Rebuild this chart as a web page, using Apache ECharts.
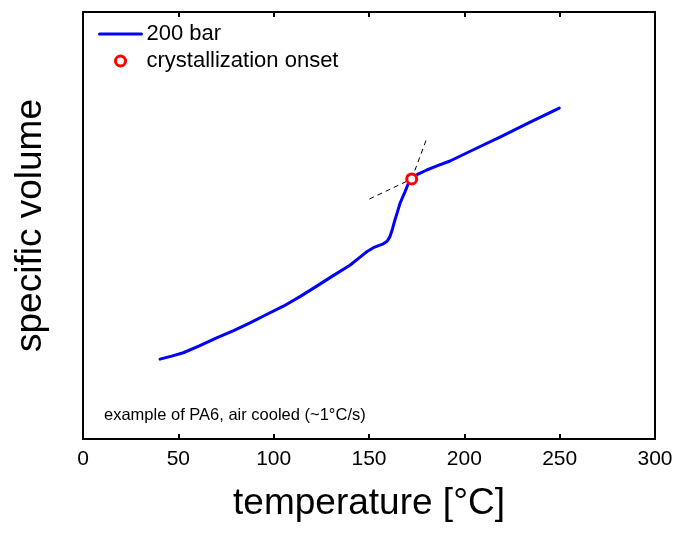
<!DOCTYPE html>
<html>
<head>
<meta charset="utf-8">
<script src="https://cdn.jsdelivr.net/npm/echarts@6/dist/echarts.min.js"></script>
<style>
html,body{margin:0;padding:0;background:#fff;}
#chart{width:686px;height:539px;}
</style>
</head>
<body>
<div id="chart"></div>
<script>
// temperature [°C] of the 200 bar curve
var temperature = [40.4, 46.5, 52.6, 61.0, 70.1, 79.0, 87.6, 96.0, 105.1, 114.0, 122.6, 131.0, 140.0, 145.3, 149.0, 152.3, 155.0, 157.5, 159.5, 161.0, 162.3, 163.6, 165.0, 166.3, 167.7, 168.9, 170.3, 171.6, 173.5, 176.0, 180.3, 186.0, 192.5, 205.0, 218.7, 234.0, 249.8];
// specific volume (arbitrary units, axis unlabelled)
var specificVolume = [18.7, 19.4, 20.2, 21.8, 23.7, 25.4, 27.2, 29.1, 31.1, 33.4, 35.8, 38.2, 40.7, 42.6, 43.9, 44.8, 45.3, 45.7, 46.3, 47.4, 49.2, 51.3, 53.3, 55.2, 56.7, 57.9, 59.5, 60.6, 61.4, 62.1, 63.0, 64.0, 65.1, 67.8, 70.7, 74.1, 77.5];
// crystallization onset point
var onsetT = [172.4];
var onsetV = [60.9];
// tangent construction lines
var meltTangentT = [150.2, 172.4];
var meltTangentV = [56.2, 60.9];
var transTangentT = [172.4, 180.3];
var transTangentV = [60.9, 70.4];
// tick labels
var xTicks = [0, 50, 100, 150, 200, 250, 300];

function pairs(xs, ys) { return xs.map(function (x, i) { return [x, ys[i]]; }); }

var FONT = '"Liberation Sans", Arial, sans-serif';
var chart = echarts.init(document.getElementById('chart'), null, {renderer: 'canvas'});
chart.setOption({
  backgroundColor: '#ffffff',
  animation: false,
  grid: {left: 83, right: 31, top: 12, bottom: 100, containLabel: false},
  legend: {
    orient: 'vertical', left: 93, top: 18, itemWidth: 42, itemHeight: 10, itemGap: 5,
    textStyle: {fontFamily: FONT, fontSize: 22, color: '#000'},
    data: [
      {name: '200 bar', itemStyle: {opacity: 0}, lineStyle: {color: '#0000ff', width: 3}},
      {name: 'crystallization onset', icon: 'circle',
        itemStyle: {color: '#ffffff', borderColor: '#ff0000', borderWidth: 3, opacity: 1}}
    ]
  },
  xAxis: [{
    type: 'value', min: 0, max: 300, interval: 50, position: 'bottom',
    name: 'temperature [°C]', nameLocation: 'middle', nameGap: 46,
    nameTextStyle: {fontFamily: FONT, fontSize: 37, color: '#000'},
    axisLine: {show: true, onZero: false, lineStyle: {color: '#000', width: 2}},
    axisTick: {show: true, inside: true, length: 5, lineStyle: {color: '#000', width: 2}},
    axisLabel: {show: true, fontFamily: FONT, fontSize: 21, color: '#000', margin: 10,
      formatter: function (v) { return xTicks.indexOf(v) >= 0 ? String(v) : ''; }},
    splitLine: {show: false}
  }, {
    type: 'value', min: 0, max: 300, interval: 50, position: 'top',
    axisLine: {show: true, onZero: false, lineStyle: {color: '#000', width: 2}},
    axisTick: {show: true, inside: true, length: 5, lineStyle: {color: '#000', width: 2}},
    axisLabel: {show: false}, splitLine: {show: false}
  }],
  yAxis: [{
    type: 'value', min: 0, max: 100, position: 'left',
    name: 'specific volume', nameLocation: 'middle', nameGap: 34, nameRotate: 90,
    nameTextStyle: {fontFamily: FONT, fontSize: 37, color: '#000'},
    axisLine: {show: true, onZero: false, lineStyle: {color: '#000', width: 2}},
    axisTick: {show: false}, axisLabel: {show: false}, splitLine: {show: false}
  }, {
    type: 'value', min: 0, max: 100, position: 'right',
    axisLine: {show: true, onZero: false, lineStyle: {color: '#000', width: 2}},
    axisTick: {show: false}, axisLabel: {show: false}, splitLine: {show: false}
  }],
  graphic: [{
    type: 'text', left: 104, top: 407, silent: true,
    style: {text: 'example of PA6, air cooled (~1°C/s)', font: '16.5px ' + FONT, fill: '#000'}
  }],
  series: [
    {
      name: 'meltTangent', type: 'line', data: pairs(meltTangentT, meltTangentV),
      symbol: 'none', lineStyle: {color: '#000', width: 1, type: [5, 4]}, z: 1
    },
    {
      name: 'transTangent', type: 'line', data: pairs(transTangentT, transTangentV),
      symbol: 'none', lineStyle: {color: '#000', width: 1, type: [5, 4]}, z: 1
    },
    {
      name: '200 bar', type: 'line', data: pairs(temperature, specificVolume),
      symbol: 'none', showSymbol: false, smooth: false,
      itemStyle: {color: '#0000ff'},
      lineStyle: {color: '#0000ff', width: 3, join: 'round', cap: 'round'}, z: 2
    },
    {
      name: 'crystallization onset', type: 'scatter', data: pairs(onsetT, onsetV),
      symbol: 'circle', symbolSize: 10,
      itemStyle: {color: '#ffffff', borderColor: '#ff0000', borderWidth: 3, opacity: 1}, z: 3
    }
  ]
});
</script>
</body>
</html>
